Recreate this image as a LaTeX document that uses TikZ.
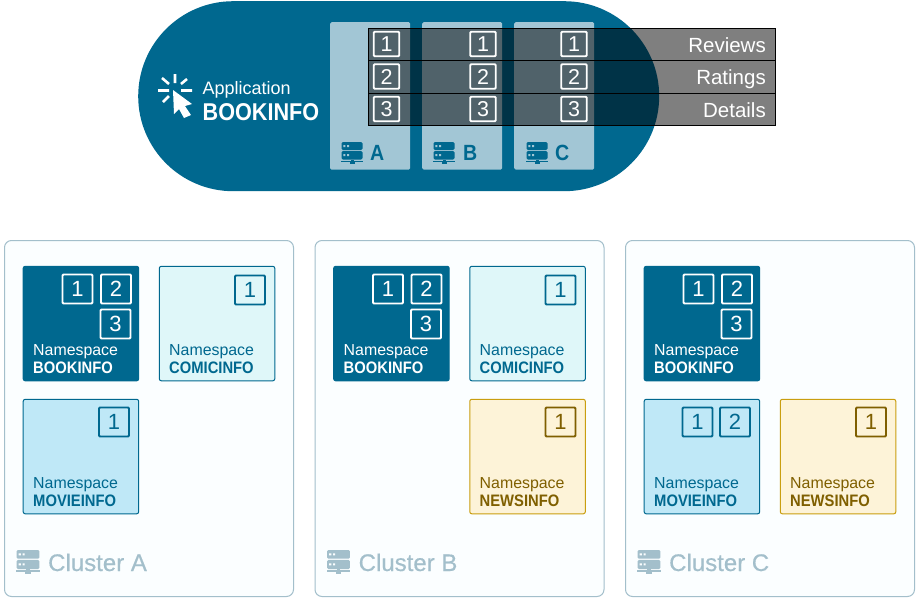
\documentclass[tikz,border=0pt]{standalone}
\usepackage{fontspec}
\setmainfont{Liberation Sans}
\newfontfamily\boldnarrow[FakeStretch=0.89]{Liberation Sans Bold}
\newfontfamily\mediumfont[FakeBold=0.5]{Liberation Sans}
\definecolor{pillblue}{HTML}{00688F}
\definecolor{panelblue}{HTML}{A2C6D5}
\definecolor{clusterline}{HTML}{A3BFCB}
\definecolor{clusterfill}{HTML}{FBFEFF}
\definecolor{comicfill}{HTML}{DFF7F9}
\definecolor{moviefill}{HTML}{BFE8F7}
\definecolor{newsfill}{HTML}{FDF3D8}
\definecolor{newsline}{HTML}{C99E10}
\definecolor{newstext}{HTML}{7F5F00}
\tikzset{
  x=1pt,y=-1pt,
  panelbox/.style={fill=panelblue,rounded corners=1.5pt,anchor=north west,inner sep=0,minimum width=80pt,minimum height=147.5pt},
  rowbox/.style={draw=black,line width=1pt,fill=black,fill opacity=.5,draw opacity=1,anchor=north west,inner sep=0,minimum width=407pt,minimum height=32.5pt},
  rowtext/.style={text=white,font=\fontsize{20.5}{22}\selectfont,anchor=base east,inner sep=0},
  numtop/.style={draw=white,line width=1.8pt,text=white,rounded corners=1pt,inner sep=0,minimum width=25.5pt,minimum height=24.5pt,font=\fontsize{21.5}{22}\selectfont},
  numns/.style={draw=#1,text=#1,line width=1.8pt,rounded corners=1pt,inner sep=0,minimum width=30pt,minimum height=29pt,font=\fontsize{22}{22}\selectfont},
  clusterbox/.style={draw=clusterline,fill=clusterfill,line width=1pt,rounded corners=7pt,anchor=north west,inner sep=0,minimum width=289pt,minimum height=356pt},
  nsbox/.style n args={2}{fill=#1,draw=#2,line width=1pt,rounded corners=2pt,anchor=north west,inner sep=0,minimum width=115.5pt,minimum height=114.5pt},
  nsnormal/.style={anchor=base west,inner sep=0,text=#1,font=\fontsize{15.9}{18}\selectfont},
  nsbold/.style={anchor=base west,inner sep=0,text=#1,font=\boldnarrow\fontsize{16.6}{18}\selectfont},
  clusterlabel/.style={anchor=base west,inner sep=0,text=clusterline,font=\mediumfont\fontsize{24}{26}\selectfont},
  serverletter/.style={anchor=base west,inner sep=0,text=pillblue,font=\boldnarrow\fontsize{22}{22}\selectfont},
}
% server icon: x, y of top-left, colour, dot colour, scale
\newcommand{\servericon}[5]{%
  \begin{scope}[shift={(#1,#2)},scale=#5]
    \fill[#3,rounded corners=1.4pt] (0.5,0) rectangle (21.5,8);
    \fill[#3,rounded corners=1.4pt] (0.5,9) rectangle (21.5,17.5);
    \fill[#3] (9.5,17.5) rectangle (12.5,19);
    \fill[#3] (0,18.8) rectangle (22,20.2);
    \fill[#3] (8.5,20) rectangle (13.5,22);
    \fill[#4] (2.4,3) rectangle (4.4,5) (6,3) rectangle (8,5) (2.4,12.2) rectangle (4.4,14.2) (6,12.2) rectangle (8,14.2);
  \end{scope}}
\newcommand{\nsnum}[5]{\node[numns=#5] (#1) at (#2,#3) {#4};}
\newcommand{\nslabels}[5]{%
  \node[nsnormal=#5] (#1n) at (#2,#3) {Namespace};
  \node[nsbold=#5] (#1b) at (#2,#3+18.5) {#4};}
\begin{document}
\begin{tikzpicture}
\useasboundingbox (0,0) rectangle (919,600);
\fill[white] (0,0) rectangle (919,600);
% application pill
\node[fill=pillblue,rounded corners=95pt,anchor=north west,inner sep=0,minimum width=521pt,minimum height=190pt] (pill) at (138,1) {};
\node[panelbox] (panelA) at (330,22) {};
\node[panelbox] (panelB) at (422,22) {};
\node[panelbox] (panelC) at (514,22) {};
\servericon{341}{142}{pillblue}{panelblue}{1}
\servericon{433}{142}{pillblue}{panelblue}{1}
\servericon{526}{142}{pillblue}{panelblue}{1}
\node[serverletter] (letterA) at (370,160) {A};
\node[serverletter] (letterB) at (463,160) {B};
\node[serverletter] (letterC) at (555,160) {C};
% cursor icon
\draw[white,line width=2.6pt]
  (175,74) -- (175,83) (158,90.5) -- (169,90.5) (181,90.5) -- (192,90.5)
  (162,78) -- (169,84) (187,79) -- (181,84) (163,102) -- (169,96);
\fill[white] (173,90) -- (192,104) -- (185,106) -- (191,115) -- (184,118) -- (179,109) -- (174,114) -- cycle;
\node[anchor=base west,inner sep=0,text=white,font=\fontsize{18}{20}\selectfont] (apptext) at (202.5,94) {Application};
\node[anchor=base west,inner sep=0,text=white,font=\boldnarrow\fontsize{24.3}{26}\selectfont] (appname) at (202.5,120) {BOOKINFO};
% service rows
\node[rowbox] (rowR) at (368,27.5) {};
\node[rowbox] (rowA) at (368,60) {};
\node[rowbox] (rowD) at (368,92.5) {};
\node[rowtext] (reviews) at (766,52) {Reviews};
\node[rowtext] (ratings) at (766,84.5) {Ratings};
\node[rowtext] (details) at (766,117) {Details};
\foreach \c/\x in {A/386.5,B/483,C/574}{
  \node[numtop] (t1\c) at (\x,44) {1};
  \node[numtop] (t2\c) at (\x,76.5) {2};
  \node[numtop] (t3\c) at (\x,109) {3};
}
% clusters
\node[clusterbox] (clA) at (4,240) {};
\node[clusterbox] (clB) at (314.5,240) {};
\node[clusterbox] (clC) at (625,240) {};
\foreach \c/\dx in {a/0,b/310.5,c/621}{
  \node[nsbox={pillblue}{pillblue}] (\c book) at (22.7+\dx,265.8) {};
  \nsnum{\c bn1}{77.5+\dx}{289}{1}{white}
  \nsnum{\c bn2}{116+\dx}{289}{2}{white}
  \nsnum{\c bn3}{115.5+\dx}{324}{3}{white}
  \nslabels{\c bl}{33+\dx}{355}{BOOKINFO}{white}
}
% comicinfo in A and B
\foreach \c/\dx in {a/0,b/310.5}{
  \node[nsbox={comicfill}{pillblue}] (\c comic) at (158.8+\dx,265.8) {};
  \nsnum{\c cn1}{250+\dx}{290}{1}{pillblue}
  \nslabels{\c cl}{169+\dx}{355}{COMICINFO}{pillblue}
}
% movieinfo in A and C
\node[nsbox={moviefill}{pillblue}] (amovie) at (22.7,398.8) {};
\nsnum{amn1}{114}{422}{1}{pillblue}
\nslabels{aml}{33}{488}{MOVIEINFO}{pillblue}
\node[nsbox={moviefill}{pillblue}] (cmovie) at (643.7,398.8) {};
\nsnum{cmn1}{697.5}{422}{1}{pillblue}
\nsnum{cmn2}{735}{422}{2}{pillblue}
\nslabels{cml}{654}{488}{MOVIEINFO}{pillblue}
% newsinfo in B and C
\foreach \c/\dx in {b/310.5,c/621}{
  \node[nsbox={newsfill}{newsline}] (\c news) at (158.8+\dx,398.8) {};
  \nsnum{\c nn1}{250+\dx}{422}{1}{newstext}
  \nslabels{\c nl}{169+\dx}{488}{NEWSINFO}{newstext}
}
% cluster labels
\servericon{16}{550}{clusterline}{clusterfill}{1.09}
\servericon{326.5}{550}{clusterline}{clusterfill}{1.09}
\servericon{637}{550}{clusterline}{clusterfill}{1.09}
\node[clusterlabel] (labA) at (48,571) {Cluster A};
\node[clusterlabel] (labB) at (358.5,571) {Cluster B};
\node[clusterlabel] (labC) at (669,571) {Cluster C};
\end{tikzpicture}
\end{document}
